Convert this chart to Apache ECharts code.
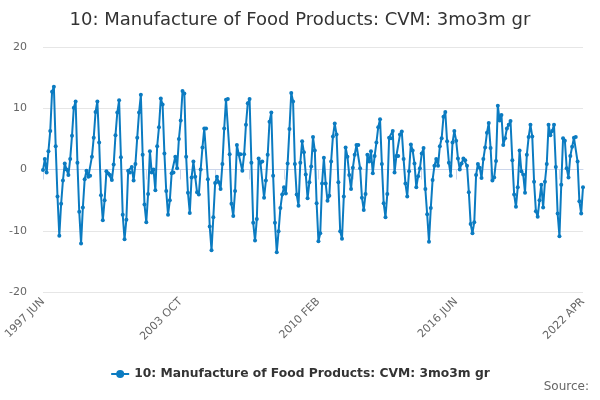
<!DOCTYPE html>
<html>
<head>
<meta charset="utf-8">
<script src="https://cdn.jsdelivr.net/npm/echarts@6/dist/echarts.min.js"></script>
<style>
  html, body { margin: 0; padding: 0; background: #fff; }
  #chart { width: 600px; height: 400px; }
</style>
</head>
<body>
<div id="chart"></div>
<script>
// monthly series, 1997 JUN .. 2022 APR
var startYear = 1997, startMonth = 5; // JUN (0-based)
var monthNames = ['JAN', 'FEB', 'MAR', 'APR', 'MAY', 'JUN', 'JUL', 'AUG', 'SEP', 'OCT', 'NOV', 'DEC'];

// 1997 JUN - 2003 SEP
var values1 = [
  -0.1, 1.7, -0.5, 3.0, 6.3, 12.7, 13.5, 3.8, -4.4, -10.8, -5.6, -1.8, 1.0, 0.0, -0.9, 1.7, 5.5, 10.1, 11.1,
  1.1, -6.9, -12.1, -6.2, -1.6, -0.2, -1.2, -1.0, 2.1, 5.2, 9.4, 11.1, 4.4, -4.2, -8.3, -5.0, -0.3, -0.65, -0.9,
  -1.7, 0.8, 5.6, 9.3, 11.3, 2.0, -7.4, -11.4, -8.2, -0.2, -0.5, 0.4, -1.8, 0.9, 5.2, 9.3, 12.2, 2.4, -5.7,
  -8.6, -4.0, 3.0, -0.5, 0.0, -3.4, 3.8, 6.9, 11.6, 10.6, 2.6, -3.5, -7.4, -5.0, -0.6, -0.5, 2.1, 0.2, 5.0, 8.0
];
// 2003 OCT - 2010 JAN
var values2 = [
  12.8, 12.4, 2.1, -3.8, -7.1, -1.3, 1.3, -1.2, -3.7, -4.1, 0.0, 3.6, 6.7, 6.7, -1.6, -9.3, -13.2, -7.8, -2.2,
  -1.2, -2.1, -3.2, 0.9, 6.7, 11.4, 11.5, 2.5, -5.6, -7.6, -3.5, 4.0, 2.5, 2.5, -0.2, 2.5, 7.3, 10.8, 11.5,
  1.1, -8.7, -11.6, -8.1, 1.8, 1.1, 1.3, -4.6, -1.8, 2.4, 7.8, 9.3, -1.0, -8.7, -13.5, -10.1, -6.3, -4.1, -2.9,
  -3.9, 1.0, 6.6, 12.5, 11.1, 0.9, -4.1, -5.9, 1.1, 4.6, 2.8, -0.8, -4.7, -2.1, 0.5, 5.3, 3.1, -5.5
];
// 2010 FEB - 2016 MAY
var values3 = [
  -11.7, -10.4, -2.3, 1.9, -2.3, -5.1, -4.3, 1.3, 5.4, 7.5, 5.7, -2.1, -10.1, -11.3, -4.4, 3.6, 2.1, -0.9, -3.2,
  0.3, 2.4, 4.0, 4.0, 0.2, -4.6, -6.6, -4.0, 2.4, 1.3, 3.0, -0.6, 2.2, 4.4, 6.9, 8.2, 0.9, -5.5, -7.8,
  -4.0, 5.2, 5.1, 6.3, -0.5, 2.2, 2.2, 5.7, 6.2, 1.7, -2.3, -4.4, -0.3, 4.1, 3.1, 1.0, -2.9, -1.1, 0.2,
  2.6, 3.5, -3.2, -7.3, -11.8, -6.3, -1.7, 0.6, 1.7, 0.6, 3.8, 5.1, 8.6, 9.4, 4.6, 1.1, -1.0, 4.4, 6.3
];
// 2016 JUN - 2022 APR
var values4 = [
  4.7, 1.8, 0.0, 1.0, 1.8, 1.5, 0.6, -3.7, -8.9, -10.4, -8.6, -0.9, 0.9, 0.3, -1.4, 1.7, 3.6, 6.0, 7.6,
  3.5, -1.8, -1.3, 1.4, 10.4, 8.0, 8.9, 4.0, 5.1, 6.7, 7.3, 7.9, 1.5, -4.1, -6.1, -2.9, 3.1, -0.3, -0.8,
  -3.8, 2.4, 5.3, 7.3, 5.4, -2.0, -6.8, -7.7, -5.0, -2.5, -6.2, -2.0, 0.9, 7.3, 5.6, 6.3, 7.3, 0.4, -7.2,
  -10.9, -2.5, 5.1, 4.7, 0.2, -1.3, 2.2, 3.7, 5.2, 5.3, 1.3, -5.2, -7.2, -2.9
];
var values = values1.concat(values2, values3, values4);

var categories = [];
for (var k = 0; k < values.length; k++) {
  var m = startMonth + k;
  categories.push((startYear + Math.floor(m / 12)) + ' ' + monthNames[m % 12]);
}

var yTicks = { min: -20, max: 20, interval: 10 };
var seriesName = '10: Manufacture of Food Products: CVM: 3mo3m gr';
var lastIndex = values.length - 1;

var chart = echarts.init(document.getElementById('chart'));
chart.setOption({
  animation: false,
  title: {
    text: seriesName,
    left: 'center',
    top: 6,
    textStyle: { fontFamily: 'DejaVu Sans', fontSize: 18, fontWeight: 'normal', color: '#333333' }
  },
  grid: { left: 43, right: 17, top: 47, bottom: 108 },
  legend: {
    bottom: 15,
    left: 'center',
    itemWidth: 18,
    itemHeight: 10,
    textStyle: { fontFamily: 'DejaVu Sans', fontSize: 12.3, fontWeight: 'bold', color: '#333333' },
    data: [seriesName]
  },
  graphic: [{
    type: 'text',
    right: 11,
    top: 381,
    style: { text: 'Source:', fontFamily: 'DejaVu Sans', fontSize: 12, fill: '#666666' }
  }],
  xAxis: {
    type: 'category',
    data: categories,
    boundaryGap: false,
    axisLine: { lineStyle: { color: '#ccd6eb' } },
    axisTick: { length: 10, interval: 18, lineStyle: { color: '#ccd6eb' } },
    axisLabel: {
      rotate: 45,
      color: '#666666',
      fontFamily: 'DejaVu Sans',
      fontSize: 11,
      margin: 8,
      interval: function (i) { return i % 76 === 0 || i === lastIndex; }
    },
    splitLine: { show: false }
  },
  yAxis: {
    type: 'value',
    min: yTicks.min,
    max: yTicks.max,
    interval: yTicks.interval,
    axisLine: { show: false },
    axisTick: { show: false },
    axisLabel: { color: '#666666', fontFamily: 'DejaVu Sans', fontSize: 11, margin: 16 },
    splitLine: { lineStyle: { color: '#e6e6e6' } }
  },
  series: [{
    name: seriesName,
    type: 'line',
    data: values,
    color: '#0b7bc1',
    lineStyle: { width: 2 },
    symbol: 'circle',
    symbolSize: 4,
    showAllSymbol: true,
    itemStyle: { color: '#0b7bc1' }
  }]
});
</script>
</body>
</html>
